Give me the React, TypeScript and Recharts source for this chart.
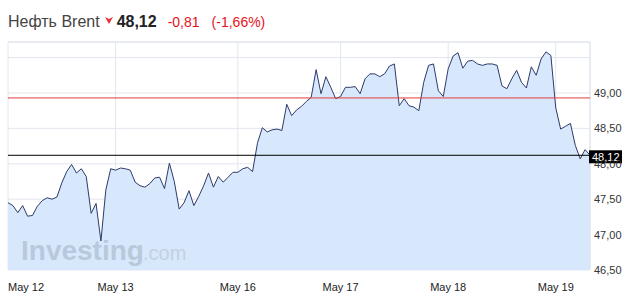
import React from "react";
import { AreaChart, Area, XAxis, YAxis, CartesianGrid, ReferenceLine } from "recharts";

const prices: number[] = [
  47.45, 47.41, 47.31, 47.41, 47.26, 47.27, 47.40, 47.48, 47.52, 47.50,
  47.53, 47.73, 47.89, 47.99, 47.87, 47.93, 47.82, 47.30, 47.44, 46.91,
  47.63, 47.93, 47.91, 47.94, 47.93, 47.91, 47.74, 47.69, 47.67, 47.72,
  47.80, 47.81, 47.65, 48.01, 47.75, 47.36, 47.45, 47.62, 47.41, 47.54,
  47.69, 47.87, 47.67, 47.82, 47.74, 47.81, 47.88, 47.88, 47.93, 47.95,
  47.89, 48.29, 48.51, 48.45, 48.48, 48.49, 48.47, 48.84, 48.68, 48.76,
  48.81, 48.88, 48.94, 49.33, 48.99, 49.23, 49.08, 48.92, 48.95, 49.08,
  49.08, 49.09, 48.99, 49.20, 49.27, 49.27, 49.23, 49.27, 49.38, 49.41,
  48.82, 48.92, 48.82, 48.80, 48.75, 49.15, 49.39, 49.41, 49.03, 48.95,
  49.34, 49.52, 49.57, 49.35, 49.45, 49.46, 49.41, 49.39, 49.41, 49.41,
  49.39, 49.10, 49.06, 49.20, 49.32, 49.15, 49.07, 49.37, 49.25, 49.48,
  49.58, 49.53, 48.79, 48.49, 48.53, 48.57, 48.26, 48.07, 48.20, 48.12,
];

const dayTickIndex: number[] = [0, 22, 47, 68, 90, 112];
const dayTickLabels: string[] = ["May 12", "May 13", "May 16", "May 17", "May 18", "May 19"];

const priceTicks: number[] = [46.5, 47, 47.5, 48, 48.5, 49, 49.5];
const priceDomain: number[] = [46.5, 49.72];

const instrumentName = "Нефть Brent";
const lastPrice = 48.12;
const prevClose = 48.93;
const changeText = "-0,81";
const changePctText = "(-1,66%)";

const fmt = (v: number) => v.toFixed(2).replace(".", ",");

const data = prices.map((v, i) => ({ i, v }));

const FONT = "'Liberation Sans', Arial, sans-serif";

const XTick = (props: any) => {
  const { x, y, payload } = props;
  const idx = dayTickIndex.indexOf(payload.value);
  const label = idx >= 0 ? dayTickLabels[idx] : "";
  const first = idx === 0;
  return (
    <text
      x={x}
      y={y + 21}
      textAnchor={first ? "start" : "middle"}
      fontSize={11}
      fontFamily={FONT}
      fill="#222"
    >
      {label}
    </text>
  );
};

const YTick = (props: any) => {
  const { x, y, payload } = props;
  if (payload.value > 49.4) return <g />;
  return (
    <text x={x} y={y} dy="0.36em" textAnchor="start" fontSize={11} fontFamily={FONT} fill="#333">
      {fmt(payload.value)}
    </text>
  );
};

const LastBadge = (props: any) => {
  const vb = props.viewBox || {};
  const bx = (vb.x || 0) + (vb.width || 0) - 1;
  const by = vb.y || 0;
  return (
    <g>
      <rect x={bx} y={by - 5} width={33} height={13} fill="#000" />
      <text x={bx + 3} y={by + 1.5} dy="0.36em" fontSize={11} fontFamily={FONT} fill="#fff">
        {fmt(lastPrice)}
      </text>
    </g>
  );
};

export default function App() {
  return (
    <div style={{ position: "relative", width: 644, height: 308, background: "#fff", overflow: "hidden" }}>
      <style>{`body{margin:0}`}</style>
      <div
        style={{
          position: "absolute",
          left: 8,
          top: 13,
          fontFamily: FONT,
          whiteSpace: "nowrap",
          display: "flex",
          alignItems: "baseline",
          zIndex: 2,
        }}
      >
        <span style={{ fontSize: 16, color: "#444" }}>{instrumentName}</span>
        <svg width={10} height={10} style={{ marginLeft: 4, marginRight: 3, alignSelf: "flex-start", marginTop: 3 }}>
          <path d="M1 1 L5 3 L9 1 L5 8 Z" fill="#e8303a" />
        </svg>
        <span style={{ fontSize: 16, fontWeight: "bold", color: "#222" }}>{fmt(lastPrice)}</span>
        <span style={{ fontSize: 14, color: "#e8101a", marginLeft: 11 }}>{changeText}</span>
        <span style={{ fontSize: 14, color: "#e8101a", marginLeft: 12 }}>{changePctText}</span>
      </div>
      <AreaChart width={644} height={308} data={data} margin={{ top: 42, right: 0, bottom: 0, left: 8 }}>
        <CartesianGrid stroke="#e2e6ee" strokeWidth={1} />
        <XAxis
          dataKey="i"
          type="number"
          domain={[0, prices.length - 1]}
          ticks={dayTickIndex}
          tick={<XTick />}
          axisLine={false}
          tickLine={false}
          tickSize={0}
          tickMargin={0}
          height={38}
          allowDataOverflow
        />
        <YAxis
          orientation="right"
          domain={priceDomain}
          ticks={priceTicks}
          tick={<YTick />}
          axisLine={false}
          tickLine={false}
          tickSize={0}
          tickMargin={4}
          width={54}
          allowDataOverflow
        />
        <Area
          type="linear"
          dataKey="v"
          stroke="#2f3b69"
          strokeWidth={1}
          fill="#d7e7fc"
          fillOpacity={1}
          isAnimationActive={false}
          dot={false}
          activeDot={false}
        />
        <ReferenceLine x={prices.length - 1} stroke="#dfe3ea" />
        <ReferenceLine y={priceDomain[1]} stroke="#dfe3ea" />
        <ReferenceLine y={prevClose} stroke="#e53b3b" strokeWidth={1} />
        <ReferenceLine y={lastPrice} stroke="#000" strokeWidth={1} label={<LastBadge />} />
      </AreaChart>
      <svg
        width={200}
        height={40}
        style={{ position: "absolute", left: 0, top: 230, pointerEvents: "none" }}
      >
        <text x={21} y={30} fontSize={28} fontWeight="bold" fontFamily={FONT} fill="#b9c9dc">
          Investing
        </text>
        <text x={143} y={30} fontSize={20} fontFamily={FONT} fill="#c3d1e3">
          .com
        </text>
      </svg>
    </div>
  );
}
